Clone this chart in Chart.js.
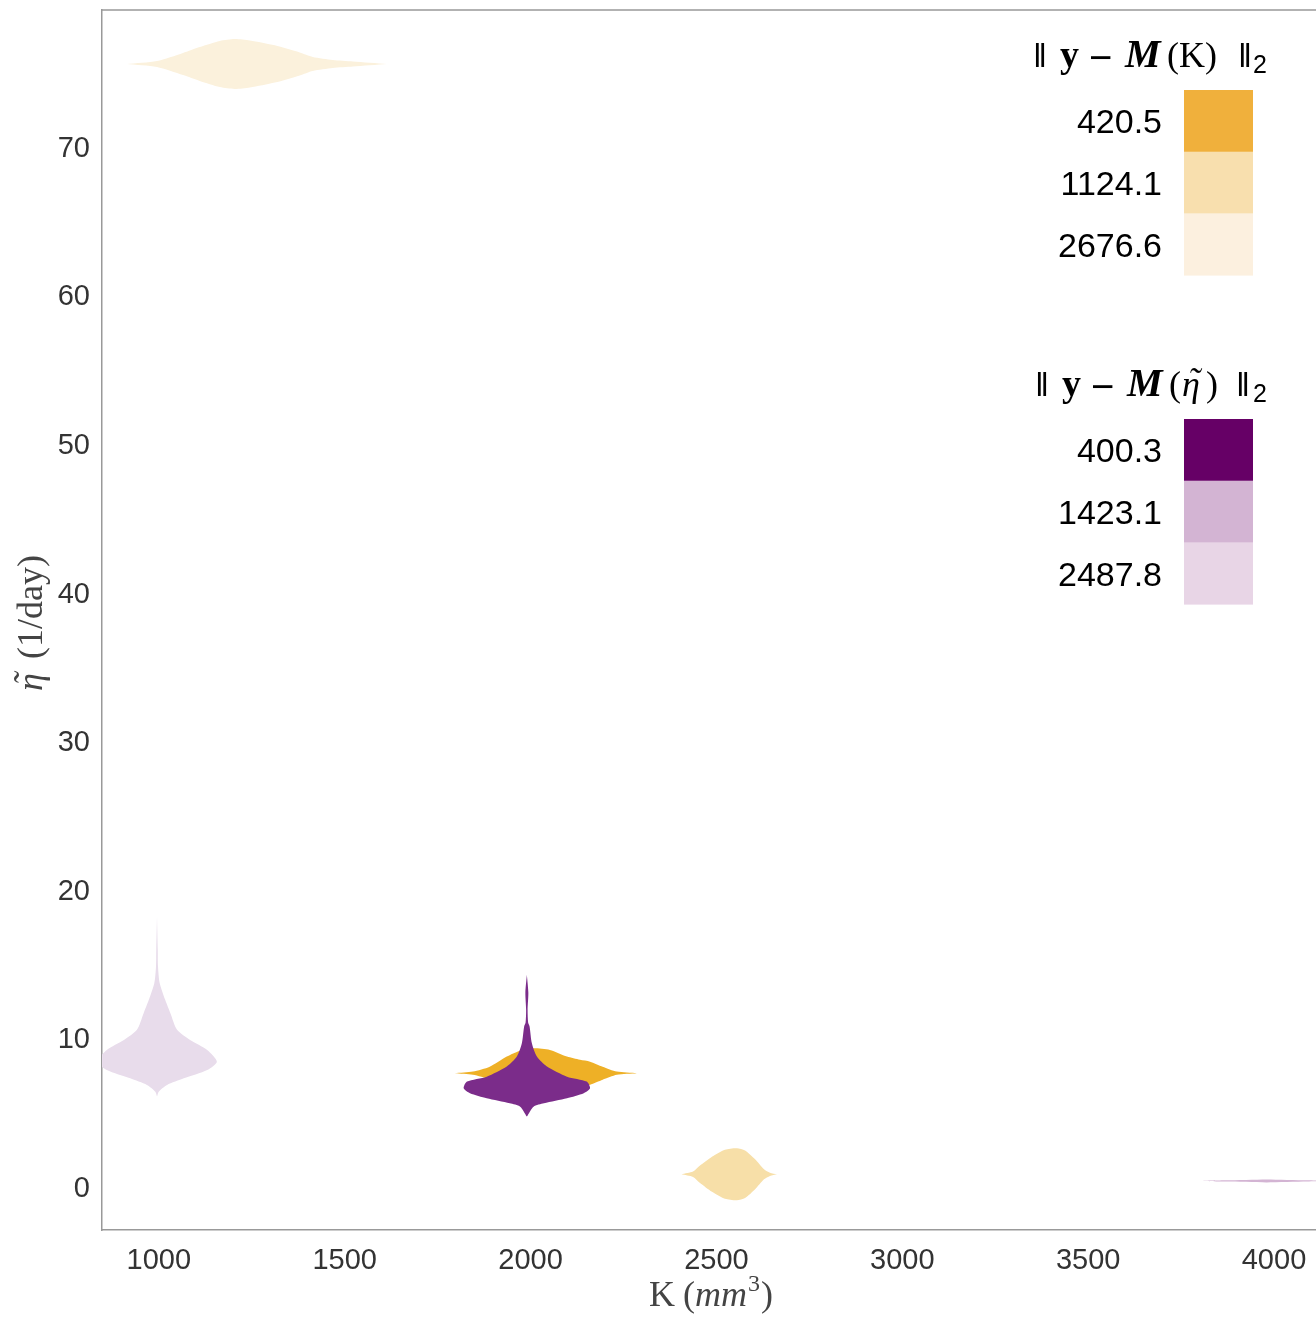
<!DOCTYPE html>
<html>
<head>
<meta charset="utf-8">
<script src="https://cdn.jsdelivr.net/npm/chart.js@4.4.1/dist/chart.umd.min.js"></script>
<style>
body { margin: 0; background: #fff; }
</style>
</head>
<body>
<canvas id="myChart" width="1316" height="1319"></canvas>
<script>
// axis ticks
const xTicks = [1000, 1500, 2000, 2500, 3000, 3500, 4000];
const yTicks = [0, 10, 20, 30, 40, 50, 60, 70];

// K violins (spread along K, drawn at a fixed eta)
const kDarkEta = 7.65;
const kDarkK = [1796, 1845, 1890, 1936, 1971, 2006, 2052, 2098, 2133, 2160, 2194, 2232, 2286];
const kDarkW = [0, 0.11, 0.44, 1.12, 1.52, 1.68, 1.57, 1.12, 0.90, 0.78, 0.44, 0.11, 0];

const kMidEta = 0.85;
const kMidK = [2406, 2437, 2455, 2488, 2523, 2555, 2577, 2604, 2628, 2644, 2663];
const kMidW = [0, 0.18, 0.57, 1.18, 1.65, 1.75, 1.60, 1.01, 0.34, 0.11, 0];

const kLightEta = 75.57;
const kLightK = [914, 995, 1065, 1110, 1164, 1204, 1245, 1312, 1379, 1414, 1468, 1522, 1613];
const kLightW = [0, 0.20, 0.74, 1.14, 1.55, 1.68, 1.58, 1.25, 0.77, 0.47, 0.27, 0.17, 0];

// eta violins (spread along eta, drawn at a fixed K)
const etaDarkK = 1990;
const etaDarkEta = [4.73, 5.40, 5.63, 5.97, 6.31, 6.64, 7.09, 7.42, 8.10, 8.77, 9.67, 10.79, 11.04, 11.9, 13.06, 14.27];
const etaDarkW = [0, 18, 46, 108, 153, 170, 161, 108, 54, 27, 13.5, 7.3, 3.5, 2, 4, 0];

const etaMidK = 3980;
const etaMidEta = [0.30, 0.36, 0.40, 0.44, 0.50];
const etaMidW = [0, 110, 170, 110, 0];

const etaLightK = 995;
const etaLightEta = [6.08, 6.41, 6.86, 7.31, 7.87, 8.43, 9.22, 9.89, 10.57, 11.69, 12.59, 13.71, 14.83, 15.95, 18.19];
const etaLightW = [0, 4.6, 27, 72, 135, 161, 135, 89, 54, 36, 22, 7.3, 2.7, 2, 0];

// legends
const kLegendLabels = ['420.5', '1124.1', '2676.6'];
const kLegendColors = ['#F0B03C', '#F8DFAE', '#FCF0DF'];
const etaLegendLabels = ['400.3', '1423.1', '2487.8'];
const etaLegendColors = ['#660066', '#D3B4D3', '#E8D5E6'];

function horizontalViolin(center, xs, ws) {
    const pts = [];
    for (let i = 0; i < xs.length; i++) pts.push({x: xs[i], y: center + ws[i]});
    for (let i = xs.length - 1; i >= 0; i--) pts.push({x: xs[i], y: center - ws[i]});
    return pts;
}

function verticalViolin(center, ys, ws) {
    const pts = [];
    for (let i = 0; i < ys.length; i++) pts.push({x: center + ws[i], y: ys[i]});
    for (let i = ys.length - 1; i >= 0; i--) pts.push({x: center - ws[i], y: ys[i]});
    return pts;
}

function violinDataset(points, color) {
    return {
        data: points,
        showLine: true,
        fill: 'shape',
        backgroundColor: color,
        borderWidth: 0,
        borderColor: 'rgba(0,0,0,0)',
        pointRadius: 0,
        tension: 0.25
    };
}

// index 0 is drawn on top
const datasets = [
    violinDataset(verticalViolin(etaDarkK, etaDarkEta, etaDarkW), '#7B2C8A'),
    violinDataset(verticalViolin(etaMidK, etaMidEta, etaMidW), '#D3B4D3'),
    violinDataset(verticalViolin(etaLightK, etaLightEta, etaLightW), '#E8DCEB'),
    violinDataset(horizontalViolin(kDarkEta, kDarkK, kDarkW), '#EEB026'),
    violinDataset(horizontalViolin(kMidEta, kMidK, kMidW), '#F7DFA8'),
    violinDataset(horizontalViolin(kLightEta, kLightK, kLightW), '#FBF1DC')
];

// draw a row of text pieces with mixed fonts; p.x pins a piece, p.tilde puts ~ above it
function drawParts(ctx, parts, x, y, align) {
    let total = 0;
    parts.forEach(p => {
        ctx.font = p.font;
        p.w = ctx.measureText(p.text).width + (p.gap || 0);
        total += p.w;
    });
    let cx = align === 'center' ? x - total / 2 : x;
    ctx.textAlign = 'left';
    parts.forEach(p => {
        ctx.font = p.font;
        const px = p.x !== undefined ? p.x : cx;
        ctx.fillText(p.text, px, y + (p.dy || 0));
        if (p.tilde) {
            const tw = ctx.measureText(p.text).width;
            ctx.textAlign = 'center';
            ctx.fillText('\u02DC', px + tw / 2 + 3, y - 3);
            ctx.textAlign = 'left';
        }
        cx = px + p.w;
    });
}

const serif = '"Liberation Serif", "DejaVu Serif", serif';
const sans = '"Liberation Sans", Arial, sans-serif';

const decorPlugin = {
    id: 'decor',
    afterDraw(chart) {
        const ctx = chart.ctx;
        const area = chart.chartArea;
        ctx.save();

        // top border
        ctx.strokeStyle = '#999';
        ctx.lineWidth = 1.5;
        ctx.beginPath();
        ctx.moveTo(area.left, area.top);
        ctx.lineTo(area.right, area.top);
        ctx.stroke();

        // axis titles
        ctx.fillStyle = '#444';
        ctx.textBaseline = 'alphabetic';
        drawParts(ctx, [
            {text: 'K', font: '36px ' + serif, gap: 8},
            {text: '(', font: '36px ' + serif},
            {text: 'mm', font: 'italic 36px ' + serif, gap: 1},
            {text: '3', font: '24px ' + serif, dy: -15, gap: 1},
            {text: ')', font: '36px ' + serif}
        ], 711, 1306, 'center');

        ctx.save();
        ctx.translate(42, 623);
        ctx.rotate(-Math.PI / 2);
        drawParts(ctx, [
            {text: 'η', font: 'italic 36px ' + serif, tilde: true, gap: 14},
            {text: '(1/day)', font: '36px ' + serif}
        ], 0, 0, 'center');
        ctx.restore();

        // legends
        ctx.fillStyle = '#000';
        drawParts(ctx, [
            {text: '‖', font: '34px ' + sans, x: 1033},
            {text: 'y', font: 'bold 38px ' + serif, x: 1060},
            {text: '−', font: '40px ' + sans, x: 1089, dy: 4},
            {text: 'M', font: 'bold italic 40px ' + serif, x: 1125},
            {text: '(K)', font: '36px ' + serif, x: 1167},
            {text: '‖', font: '34px ' + sans, x: 1238},
            {text: '2', font: '25px ' + sans, x: 1253, dy: 6}
        ], 0, 67, 'left');
        drawParts(ctx, [
            {text: '‖', font: '34px ' + sans, x: 1035},
            {text: 'y', font: 'bold 38px ' + serif, x: 1062},
            {text: '−', font: '40px ' + sans, x: 1091, dy: 4},
            {text: 'M', font: 'bold italic 40px ' + serif, x: 1127},
            {text: '(', font: '36px ' + serif, x: 1169},
            {text: 'η', font: 'italic 36px ' + serif, x: 1182, tilde: true},
            {text: ')', font: '36px ' + serif, x: 1206},
            {text: '‖', font: '34px ' + sans, x: 1236},
            {text: '2', font: '25px ' + sans, x: 1253, dy: 6}
        ], 0, 396, 'left');

        const drawBlock = (labels, colors, top) => {
            const h = 61.7;
            for (let i = 0; i < labels.length; i++) {
                const y0 = top + i * h;
                ctx.fillStyle = colors[i];
                ctx.fillRect(1184, y0, 69, h + 0.5);
                ctx.fillStyle = '#000';
                ctx.font = '34px ' + sans;
                ctx.textAlign = 'right';
                ctx.textBaseline = 'middle';
                ctx.fillText(labels[i], 1162, y0 + h / 2 + 3);
            }
            ctx.textBaseline = 'alphabetic';
        };
        drawBlock(kLegendLabels, kLegendColors, 90);
        drawBlock(etaLegendLabels, etaLegendColors, 419);

        ctx.restore();
    }
};

new Chart(document.getElementById('myChart').getContext('2d'), {
    type: 'scatter',
    data: { datasets: datasets },
    plugins: [decorPlugin],
    options: {
        responsive: false,
        animation: false,
        events: [],
        layout: { padding: { top: 10, right: 0, left: 0, bottom: 0 } },
        plugins: {
            legend: { display: false },
            tooltip: { enabled: false }
        },
        scales: {
            x: {
                type: 'linear',
                min: 847,
                max: 4113,
                afterFit: s => {
                    s.height = 89;
                    s.paddingLeft = 0;
                    s.paddingRight = 0;
                },
                afterBuildTicks: s => { s.ticks = xTicks.map(v => ({value: v})); },
                grid: { display: false, drawTicks: false },
                border: { display: true, color: '#999', width: 1.5 },
                ticks: {
                    padding: 14,
                    color: '#333',
                    font: { family: sans, size: 29 },
                    maxRotation: 0,
                    callback: v => String(v)
                }
            },
            y: {
                type: 'linear',
                min: -2.9,
                max: 79.2,
                afterFit: s => {
                    s.width = 102;
                    s.paddingTop = 0;
                    s.paddingBottom = 0;
                },
                afterBuildTicks: s => { s.ticks = yTicks.map(v => ({value: v})); },
                grid: { display: false, drawTicks: false },
                border: { display: true, color: '#999', width: 1.5 },
                ticks: {
                    padding: 12,
                    labelOffset: 2,
                    color: '#333',
                    font: { family: sans, size: 29 },
                    callback: v => String(v)
                }
            }
        }
    }
});
</script>
</body>
</html>
